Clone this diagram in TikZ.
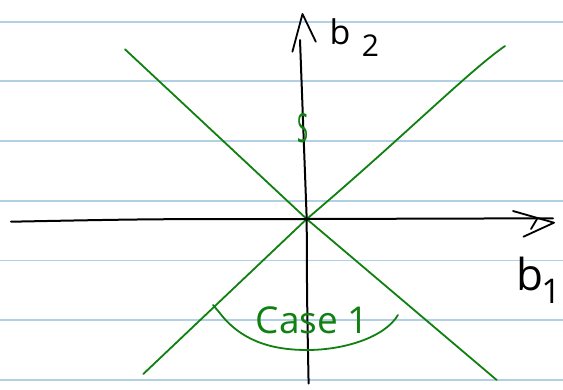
\documentclass[tikz,border=0pt]{standalone}
\usepackage{fontspec}
\setmainfont{Open Sans}
\definecolor{ruleblue}{RGB}{178,208,228}
\definecolor{pengreen}{RGB}{16,128,16}
\tikzset{
  rule/.style={draw=ruleblue, line width=1.6pt},
  axisline/.style={draw=black, line width=2pt, line cap=round, line join=round},
  greenline/.style={draw=pengreen, line width=1.8pt, line cap=round, line join=round},
  lbl/.style={inner sep=0pt, outer sep=0pt}
}
\begin{document}
\begin{tikzpicture}[x=1pt,y=-1pt]
\useasboundingbox (0,0) rectangle (563,389);
\fill[white] (0,0) rectangle (563,389);
% ruled lines
\foreach \yy in {21.7,81,140.7,200.7,260.3,320,380}
  \draw[rule] (0,\yy) -- (563,\yy);
% coordinates
\coordinate (hL) at (11,221.7);
\coordinate (hR) at (553,218.3);
\coordinate (vB) at (308.6,383.5);
\coordinate (vT) at (300,40);
\coordinate (O) at (306.7,219);
\coordinate (g1a) at (125,49.3);
\coordinate (g1b) at (496.7,380);
\coordinate (g2a) at (143.3,374);
\coordinate (g2b) at (505,46);
% green lines
\draw[greenline] (g1a) -- (O) -- (g1b);
\draw[greenline] (g2a) -- (O) .. controls (400,140) and (470,70) .. (g2b);
% axes
\draw[axisline] (hL) .. controls (150,219) .. (O) -- (hR);
\draw[axisline] (vB) .. controls (307,300) .. (O) .. controls (303,120) .. (vT);
% arrowheads
\draw[axisline, line width=1.8pt] (513,211) -- (554,222.7) -- (523.5,236.7);
\draw[axisline, line width=1.8pt] (537,219) -- (531,229);
\draw[axisline, line width=1.8pt] (292.4,51.7) -- (302.5,14) -- (315.8,41.7);
% labels
\node[lbl, font=\fontsize{34}{34}\selectfont] (b2b) at (340,32) {b};
\node[lbl, font=\fontsize{30}{30}\selectfont] (b2n) at (370.5,46) {2};
\node[lbl, font=\fontsize{44}{44}\selectfont] (b1b) at (530,274) {b};
\node[lbl, font=\fontsize{34}{34}\selectfont] (b1n) at (551,291) {1};
% green S mark
\node[lbl, text=pengreen, font=\fontsize{40}{40}\selectfont] (smark) at (303,128) {\scalebox{0.5}[1]{S}};
% case arc and text
\draw[greenline] (213,305) -- (219,312) .. controls (240,340) and (270,350) .. (307,350) .. controls (345,350) and (385,337) .. (398,315);
\node[lbl, text=pengreen, anchor=base, font=\fontsize{37}{37}\selectfont] (case) at (312.5,333.5) {Case 1};
\end{tikzpicture}
\end{document}
